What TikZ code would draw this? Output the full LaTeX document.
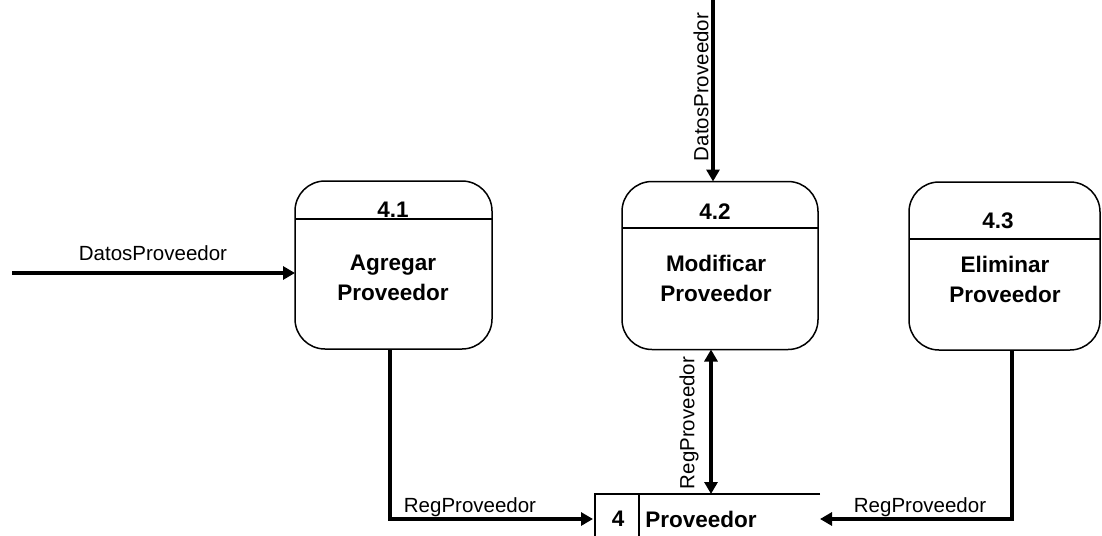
\documentclass[tikz,border=0pt]{standalone}
\usepackage{fontspec}
\setmainfont{Liberation Sans}
\usetikzlibrary{arrows.meta}
\begin{document}
\begin{tikzpicture}[x=1pt,y=-1pt,
  proc/.style={draw,line width=1.5pt,rounded corners=30pt,minimum height=168pt,inner sep=0pt,outer sep=0pt},
  flow/.style={line width=3.2pt,-{Triangle[length=12pt,width=13pt]}},
  flowtwo/.style={line width=3.2pt,{Triangle[length=12pt,width=13pt]}-{Triangle[length=12pt,width=13pt]}},
  lbl/.style={font=\fontsize{20.5}{24}\selectfont,inner sep=0pt},
  bt/.style={font=\fontsize{22.5}{30}\selectfont\bfseries,align=center,inner sep=0pt},
  thinline/.style={line width=1.5pt}]
\useasboundingbox (0,0) rectangle (1102,535);
% processes
\node[proc,minimum width=197pt] (b41) at (393.5,265) {};
\node[proc,minimum width=196pt] (b42) at (720,265.5) {};
\node[proc,minimum width=191pt] (b43) at (1004.5,266) {};
\draw[thinline] (b41.west |- 0,219) -- (b41.east |- 0,219);
\draw[thinline] (b42.west |- 0,228) -- (b42.east |- 0,228);
\draw[thinline] (b43.west |- 0,239) -- (b43.east |- 0,239);
\node[bt] (n41) at (393,210) {4.1};
\node[bt] (n42) at (715,212) {4.2};
\node[bt] (n43) at (998,221) {4.3};
\node[bt] (t41) at (393,278) {Agregar\\Proveedor};
\node[bt] (t42) at (716,278) {Modificar\\Proveedor};
\node[bt] (t43) at (1005,279) {Eliminar\\Proveedor};
% store
\node[minimum width=225pt,minimum height=50pt,inner sep=0pt,outer sep=0pt] (store) at (707.5,519) {};
\draw[thinline] (store.north east) -- (store.north west) -- (store.south west);
\draw[thinline] (store.north -| 639,0) -- (store.south -| 639,0);
\node[bt] (sn) at (618,519) {4};
\node[bt] (st) at (701,519) {Proveedor};
% connectors
\coordinate (inL) at (12,273);
\draw[flow] (inL) -- (inL -| b41.west);
\node[lbl] (lL) at (153,253) {DatosProveedor};
\coordinate (inT) at (713,0);
\draw[flow] (inT) -- (inT |- b42.north);
\node[lbl,rotate=90] (lT) at (701,87) {DatosProveedor};
\draw[flow] ([xshift=-3.5pt]b41.south) |- ([xshift=-2pt]store.west);
\node[lbl] (l1) at (470,507) {RegProveedor};
\coordinate (dx) at (711,0);
\draw[flowtwo] (store.north -| dx) -- (b42.south -| dx);
\node[lbl,rotate=90] (l2) at (689,423) {RegProveedor};
\draw[flow] ([xshift=7.5pt]b43.south) |- (store.east);
\node[lbl] (l3) at (920,507) {RegProveedor};
\end{tikzpicture}
\end{document}
